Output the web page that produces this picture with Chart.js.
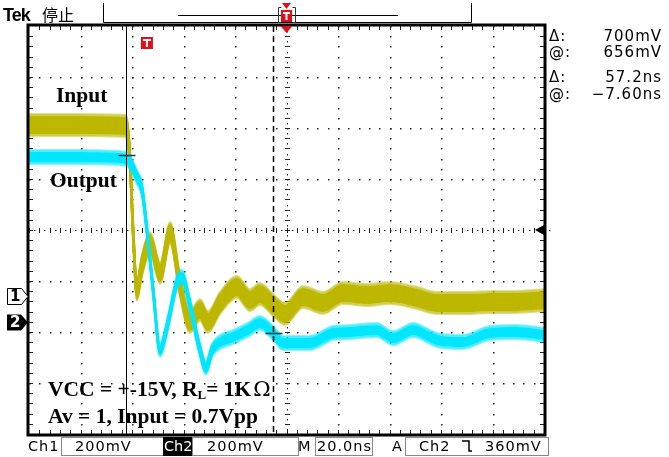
<!DOCTYPE html>
<html>
<head>
<meta charset="utf-8">
<script src="https://cdn.jsdelivr.net/npm/chart.js@4.4.0/dist/chart.umd.min.js"></script>
<style>
  html, body { margin: 0; padding: 0; background: #fff; }
  canvas { display: block; }
</style>
</head>
<body>
<canvas id="scope" width="669" height="457"></canvas>
<script>
// time in ns (20 ns/div, 0 = screen centre), level in mV from screen centre (200 mV/div)
const inputTime = [-100, -80.2, -62.3, -61.6, -60.8, -59.6, -58.1, -56.1, -53.0, -49.1, -45.2, -41.4, -37.5, -33.6, -30.5, -25.8, -19.2, -14.2, -10.3, -5.2, -0.6, 6.4, 14.2, 21.9, 31.3, 40.2, 50.7, 58.4, 70.1, 79.0, 89.5, 100];
const inputLevel = [412, 412, 408, 373, 275, 0, -235, -137, -51, -169, -12, -216, -361, -314, -361, -286, -224, -275, -251, -294, -329, -263, -286, -247, -255, -247, -267, -286, -286, -282, -282, -275];

const outputTime = [-100, -80.2, -64.7, -61.6, -58.1, -56.1, -54.2, -51.8, -49.1, -46.4, -42.5, -40.6, -37.5, -33.6, -31.3, -28.9, -25.8, -20.8, -15.0, -10.3, -5.2, -1.4, 9.1, 18.1, 24.7, 35.1, 41.4, 49.1, 58.4, 68.5, 79.0, 89.5, 100];
const outputLevel = [286, 286, 282, 275, 208, 157, 0, -235, -471, -380, -204, -184, -294, -471, -541, -471, -439, -420, -392, -365, -404, -443, -443, -404, -400, -392, -424, -392, -431, -439, -404, -400, -412];

const ch1Ground = -260;
const ch2Ground = -360;
const triggerTime = -54.2;
const triggerLevel = ch2Ground + 360;
const timeCursors = [-62.4, -5.2];
const levelCursors = [ch2Ground + 656, ch2Ground + 656 - 700];

const readouts = [['Δ:', '700mV'], ['@:', '656mV'], ['Δ:', '57.2ns'], ['@:', '−7.60ns']];

const points = (ts, vs) => ts.map((t, i) => ({ x: t, y: vs[i] }));

// each trace is painted as a noisy band: the line is stroked again at small vertical offsets
const traceBand = {
  id: 'traceBand',
  beforeDatasetDraw(chart, args) {
    const ds = chart.data.datasets[args.index];
    const { ctx, chartArea: a } = chart;
    const h = ds.bandHalf;
    ctx.save();
    ctx.beginPath();
    ctx.rect(a.left, a.top, a.width, a.height);
    ctx.clip();
    for (let dy = -h; dy <= h; dy += 1) {
      ctx.save();
      ctx.globalAlpha = Math.abs(dy) > h - 3 ? 0.45 : 1;
      ctx.translate(0, dy);
      args.meta.dataset.draw(ctx, a);
      ctx.restore();
    }
    ctx.restore();
  }
};

const graticule = {
  id: 'graticule',
  beforeDatasetsDraw(chart) {
    const { ctx, chartArea: a, scales: { x, y } } = chart;
    ctx.save();
    ctx.fillStyle = '#222';
    // dotted division lines
    for (let t = -80; t <= 80; t += 20) {
      if (t === 0) continue;
      const px = Math.round(x.getPixelForValue(t));
      for (let v = -800; v <= 800; v += 40) {
        ctx.fillRect(px, Math.round(y.getPixelForValue(v)), 1.5, 1.5);
      }
    }
    for (let v = -600; v <= 600; v += 200) {
      if (v === 0) continue;
      const py = Math.round(y.getPixelForValue(v));
      for (let t = -100; t <= 100; t += 4) {
        ctx.fillRect(Math.round(x.getPixelForValue(t)), py, 1.5, 1.5);
      }
    }
    // centre cross with minor ticks
    const cx = Math.round(x.getPixelForValue(0));
    const cy = Math.round(y.getPixelForValue(0));
    for (let v = -800; v <= 800; v += 40) {
      const py = Math.round(y.getPixelForValue(v));
      ctx.fillRect(cx - 2, py, 5, 1);
      ctx.fillRect(cx, Math.round(y.getPixelForValue(v + 20)), 1, 1.5);
    }
    for (let t = -100; t <= 100; t += 4) {
      const px = Math.round(x.getPixelForValue(t));
      ctx.fillRect(px, cy - 2, 1, 5);
      ctx.fillRect(Math.round(x.getPixelForValue(t + 2)), cy, 1.5, 1);
    }
    // frame ticks
    for (let t = -96; t <= 96; t += 4) {
      const px = Math.round(x.getPixelForValue(t));
      ctx.fillRect(px, a.top, 1, 4);
      ctx.fillRect(px, a.bottom - 4, 1, 4);
    }
    for (let v = -760; v <= 760; v += 40) {
      const py = Math.round(y.getPixelForValue(v));
      ctx.fillRect(a.left, py, 4, 1);
      ctx.fillRect(a.right - 4, py, 4, 1);
    }
    ctx.restore();
  }
};

const overlay = {
  id: 'overlay',
  afterDatasetsDraw(chart) {
    const { ctx, chartArea: a, scales: { x, y } } = chart;
    ctx.save();

    // time cursors
    const c1 = Math.round(x.getPixelForValue(timeCursors[0])) + 0.5;
    const c2 = Math.round(x.getPixelForValue(timeCursors[1])) + 0.5;
    ctx.strokeStyle = '#000';
    ctx.lineWidth = 1;
    ctx.beginPath();
    ctx.moveTo(c1, a.top); ctx.lineTo(c1, a.bottom);
    ctx.stroke();
    ctx.setLineDash([6, 4]);
    ctx.lineWidth = 1.5;
    ctx.beginPath();
    ctx.moveTo(c2, a.top); ctx.lineTo(c2, a.bottom);
    ctx.stroke();
    ctx.setLineDash([]);

    // level cursor marks
    ctx.strokeStyle = '#333';
    ctx.lineWidth = 1.5;
    [[c1, levelCursors[0]], [c2, levelCursors[1]]].forEach(([cx, v]) => {
      const py = Math.round(y.getPixelForValue(v)) + 0.5;
      ctx.beginPath();
      ctx.moveTo(cx - 8, py); ctx.lineTo(cx + 9, py);
      ctx.stroke();
    });

    // frame
    ctx.strokeStyle = '#000';
    ctx.lineWidth = 3;
    ctx.strokeRect(a.left - 1, a.top - 1, a.width + 2, a.height + 2);

    // horizontal position marker
    const mid = x.getPixelForValue(0);
    ctx.fillStyle = '#e0101a';
    ctx.beginPath();
    ctx.moveTo(mid - 6, a.top); ctx.lineTo(mid + 6, a.top); ctx.lineTo(mid, a.top + 7);
    ctx.closePath(); ctx.fill();

    // trigger point marker
    const tx = x.getPixelForValue(triggerTime);
    ctx.fillRect(tx - 6, 37, 12, 12);
    ctx.fillStyle = '#fff';
    ctx.fillRect(tx - 4, 39, 8, 2);
    ctx.fillRect(tx - 1, 39, 2, 8);

    // trigger level arrow
    const ty = y.getPixelForValue(triggerLevel);
    ctx.fillStyle = '#000';
    ctx.beginPath();
    ctx.moveTo(a.right - 9, ty); ctx.lineTo(a.right, ty - 5); ctx.lineTo(a.right, ty + 5);
    ctx.closePath(); ctx.fill();

    // channel ground markers
    const g1 = Math.round(y.getPixelForValue(ch1Ground)) + 0.5;
    const g2 = Math.round(y.getPixelForValue(ch2Ground)) + 0.5;
    ctx.beginPath();
    ctx.moveTo(7.5, g1 - 8); ctx.lineTo(21.5, g1 - 8); ctx.lineTo(a.left - 1, g1);
    ctx.lineTo(21.5, g1 + 8); ctx.lineTo(7.5, g1 + 8); ctx.closePath();
    ctx.fillStyle = '#fff'; ctx.fill();
    ctx.strokeStyle = '#000'; ctx.lineWidth = 1; ctx.stroke();
    ctx.beginPath();
    ctx.moveTo(7, g2 - 8); ctx.lineTo(21, g2 - 8); ctx.lineTo(a.left - 1, g2);
    ctx.lineTo(21, g2 + 8); ctx.lineTo(7, g2 + 8); ctx.closePath();
    ctx.fillStyle = '#000'; ctx.fill();
    ctx.font = 'bold 15px "DejaVu Sans"';
    ctx.textBaseline = 'middle';
    ctx.textAlign = 'left';
    ctx.fillStyle = '#000';
    ctx.fillText('1', 10, g1 + 1);
    ctx.fillStyle = '#fff';
    ctx.fillText('2', 10, g2 + 1);

    // annotations on the screen
    ctx.fillStyle = '#000';
    ctx.textBaseline = 'alphabetic';
    ctx.font = 'bold 21.5px "Liberation Serif"';
    ctx.fillText('Input', 56, 102);
    ctx.fillText('Output', 50, 187);
    let px = 48;
    const seg = (s, f, dy) => { ctx.font = f; ctx.fillText(s, px, 396 + (dy || 0)); px += ctx.measureText(s).width; };
    seg('VCC = +-15V, R', 'bold 21.5px "Liberation Serif"');
    seg('L', 'bold 13px "Liberation Serif"', 3);
    seg('= 1K', 'bold 21.5px "Liberation Serif"');
    px += 2;
    seg('Ω', '21px "DejaVu Serif"');
    ctx.font = 'bold 21.5px "Liberation Serif"';
    ctx.fillText('Av = 1, Input = 0.7Vpp', 48, 423);
    ctx.restore();
  },
  afterDraw(chart) {
    const { ctx } = chart;
    ctx.save();
    ctx.fillStyle = '#000';
    ctx.strokeStyle = '#000';

    // header
    ctx.font = 'bold 18px "Liberation Sans"';
    ctx.letterSpacing = '-1px';
    ctx.fillText('Tek', 3, 21);
    ctx.letterSpacing = '0px';
    ctx.font = '16px "Noto Sans CJK SC"';
    ctx.fillText('停止', 42, 21);
    ctx.lineWidth = 1;
    ctx.beginPath();
    ctx.moveTo(103.5, 3); ctx.lineTo(103.5, 22.5); ctx.lineTo(471.5, 22.5); ctx.lineTo(471.5, 3);
    ctx.moveTo(178, 15.5); ctx.lineTo(398, 15.5);
    ctx.stroke();
    ctx.strokeStyle = '#333';
    ctx.beginPath();
    ctx.moveTo(281.5, 7.5); ctx.lineTo(278.5, 7.5); ctx.lineTo(278.5, 22.5); ctx.lineTo(281.5, 22.5);
    ctx.moveTo(292.5, 7.5); ctx.lineTo(295.5, 7.5); ctx.lineTo(295.5, 22.5); ctx.lineTo(292.5, 22.5);
    ctx.stroke();
    ctx.fillStyle = '#e0101a';
    ctx.fillRect(281, 10, 11, 12);
    ctx.beginPath();
    ctx.moveTo(282, 3); ctx.lineTo(291, 3); ctx.lineTo(286.5, 9); ctx.closePath(); ctx.fill();
    ctx.fillStyle = '#fff';
    ctx.fillRect(283, 12, 7, 2);
    ctx.fillRect(285.5, 12, 2, 8);

    // cursor readouts
    ctx.fillStyle = '#000';
    ctx.font = '15px "DejaVu Sans"';
    ctx.letterSpacing = '1px';
    const rows = [41, 57, 82, 99];
    readouts.forEach(([k, v], i) => {
      ctx.textAlign = 'left';
      ctx.fillText(k, 549, rows[i]);
      ctx.textAlign = 'right';
      ctx.fillText(v, 662, rows[i]);
    });

    // status line
    ctx.textAlign = 'left';
    ctx.font = '14.5px "DejaVu Sans"';
    ctx.letterSpacing = '1px';
    ctx.strokeStyle = '#888';
    ctx.lineWidth = 1;
    [[61, 102], [192, 106], [315, 57], [405, 143]].forEach(([bx, bw]) => ctx.strokeRect(bx + 0.5, 437.5, bw, 18));
    ctx.fillStyle = '#000';
    ctx.fillRect(163, 437, 29, 19);
    ctx.fillText('Ch1', 28, 451);
    ctx.fillText('200mV', 75, 451);
    ctx.fillText('200mV', 207, 451);
    ctx.fillText('M', 298, 451);
    ctx.fillText('20.0ns', 317, 451);
    ctx.fillText('A', 392, 451);
    ctx.fillText('Ch2', 419, 451);
    ctx.fillText('360mV', 485, 451);
    ctx.fillStyle = '#fff';
    ctx.letterSpacing = '0px';
    ctx.fillText('Ch2', 164, 451);
    ctx.strokeStyle = '#000';
    ctx.lineWidth = 1.5;
    ctx.beginPath();
    ctx.moveTo(462, 441); ctx.lineTo(469, 441); ctx.lineTo(469, 451); ctx.lineTo(472, 451);
    ctx.stroke();
    ctx.restore();
  }
};

new Chart(document.getElementById('scope'), {
  type: 'line',
  data: {
    datasets: [
      {
        label: 'Output',
        data: points(outputTime, outputLevel),
        borderColor: '#00e6ff',
        borderWidth: 2,
        bandHalf: 7,
        pointRadius: 0,
        cubicInterpolationMode: 'monotone',
        clip: 0
      },
      {
        label: 'Input',
        data: points(inputTime, inputLevel),
        borderColor: '#bdb700',
        borderWidth: 2,
        bandHalf: 11,
        pointRadius: 0,
        cubicInterpolationMode: 'monotone',
        clip: 0
      }
    ]
  },
  options: {
    responsive: false,
    animation: false,
    layout: { padding: { left: 29, top: 26, right: 125, bottom: 23 } },
    scales: {
      x: { type: 'linear', min: -100, max: 100, display: false },
      y: { type: 'linear', min: -800, max: 800, display: false }
    },
    plugins: { legend: { display: false }, tooltip: { enabled: false } }
  },
  plugins: [graticule, traceBand, overlay]
});
</script>
</body>
</html>
